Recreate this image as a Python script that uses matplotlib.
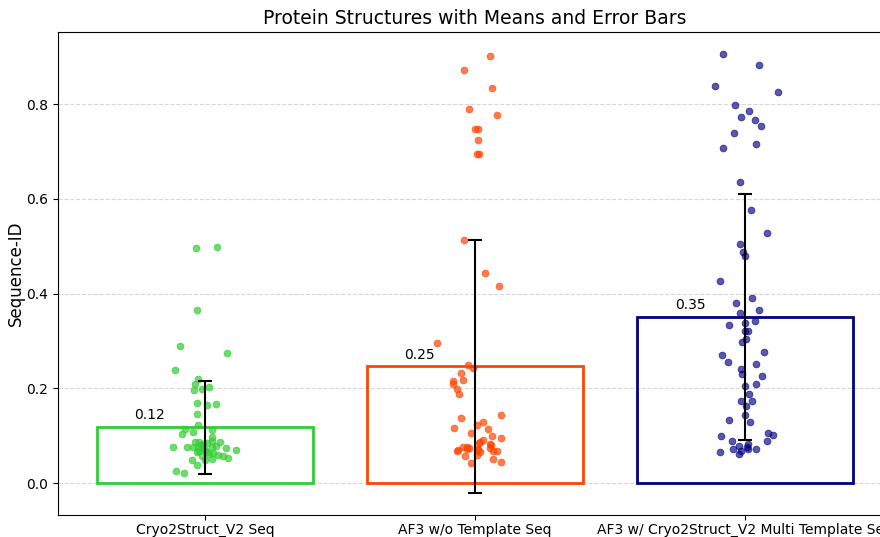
import matplotlib
matplotlib.use("Agg")
import matplotlib.pyplot as plt
import numpy as np

categories = ["Cryo2Struct_V2 Seq", "AF3 w/o Template Seq",
              "AF3 w/ Cryo2Struct_V2 Multi Template Seq"]
means = [0.118, 0.246, 0.350]
stds = [0.098, 0.267, 0.260]

cryo_vals = [0.496, 0.499, 0.365, 0.289, 0.274, 0.239, 0.220, 0.210, 0.203, 0.197,
             0.198, 0.169, 0.165, 0.167, 0.146, 0.123, 0.115, 0.103, 0.108, 0.112,
             0.097, 0.075, 0.075, 0.086, 0.087, 0.084, 0.089, 0.087, 0.075, 0.077,
             0.073, 0.075, 0.073, 0.070, 0.066, 0.065, 0.063, 0.059, 0.058, 0.052,
             0.056, 0.050, 0.049, 0.039, 0.049, 0.025, 0.022, 0.080, 0.070, 0.068,
             0.082, 0.062, 0.079]
cryo_jitter = [-0.034, 0.043, -0.031, -0.094, 0.081, -0.112, -0.024, -0.037, 0.015, -0.041,
               -0.009, -0.031, 0.007, 0.040, -0.030, -0.024, -0.075, -0.085, -0.043, 0.025,
               0.028, -0.117, -0.068, -0.037, -0.021, 0.006, 0.028, 0.056, -0.043, -0.025,
               -0.006, 0.025, 0.077, 0.115, -0.031, 0.006, 0.031, 0.049, 0.068, 0.086,
               -0.012, 0.025, -0.049, -0.031, 0.000, -0.107, -0.078, -0.015, 0.000, -0.022,
               -0.007, 0.015, 0.041]

af3_vals = [0.901, 0.871, 0.834, 0.789, 0.777, 0.747, 0.747, 0.723, 0.694, 0.695,
            0.514, 0.443, 0.416, 0.295, 0.249, 0.242, 0.232, 0.216, 0.217, 0.209,
            0.198, 0.188, 0.144, 0.137, 0.129, 0.122, 0.117, 0.114, 0.105, 0.100,
            0.096, 0.091, 0.087, 0.084, 0.082, 0.080, 0.077, 0.075, 0.073, 0.072,
            0.073, 0.071, 0.070, 0.069, 0.068, 0.068, 0.068, 0.066, 0.059, 0.057,
            0.050, 0.045, 0.042]
af3_jitter = [0.054, -0.040, 0.062, -0.022, 0.083, 0.001, 0.012, 0.012, 0.007, 0.014,
              -0.042, 0.037, 0.090, -0.142, -0.025, -0.006, -0.053, -0.082, -0.045, -0.082,
              -0.068, -0.060, 0.096, -0.053, 0.031, 0.006, -0.078, 0.047, -0.016, 0.064,
              0.096, 0.031, 0.019, 0.016, 0.056, 0.058, -0.031, -0.043, -0.021, 0.012,
              0.056, -0.028, 0.012, -0.062, -0.066, 0.068, 0.080, 0.019, 0.006, -0.037,
              0.065, 0.096, -0.016]

multi_vals = [0.906, 0.882, 0.837, 0.826, 0.798, 0.786, 0.773, 0.767, 0.754, 0.738,
              0.716, 0.708, 0.635, 0.577, 0.528, 0.504, 0.487, 0.480, 0.427, 0.391,
              0.380, 0.366, 0.359, 0.334, 0.337, 0.341, 0.321, 0.321, 0.305, 0.297,
              0.271, 0.277, 0.256, 0.251, 0.241, 0.231, 0.226, 0.208, 0.205, 0.188,
              0.173, 0.174, 0.163, 0.144, 0.132, 0.129, 0.099, 0.088, 0.106, 0.101,
              0.088, 0.079, 0.082, 0.071, 0.071, 0.072, 0.068, 0.065, 0.061, 0.077]
multi_jitter = [-0.080, 0.052, -0.110, 0.122, -0.038, 0.014, -0.015, 0.035, 0.058, -0.041,
                0.040, -0.081, -0.018, 0.021, 0.081, -0.019, -0.009, 0.001, -0.091, 0.027,
                -0.033, 0.051, -0.017, -0.059, 0.000, 0.037, 0.000, 0.012, 0.003, -0.012,
                -0.084, 0.072, -0.064, 0.042, -0.014, -0.010, 0.063, 0.042, 0.000, 0.016,
                -0.014, 0.025, 0.004, 0.001, -0.058, 0.019, -0.089, -0.048, 0.086, 0.105,
                0.083, -0.022, 0.012, -0.043, 0.012, 0.041, -0.016, -0.091, -0.021, 0.006]

values = [cryo_vals, af3_vals, multi_vals]
jitters = [cryo_jitter, af3_jitter, multi_jitter]
edge_colors = ["#32CD32", "#FF4500", "#000080"]
point_colors = ["#32CD32", "#FF4500", "#000080"]
point_alpha = [0.7, 0.7, 0.65]

fig = plt.figure(figsize=(8.8, 5.37), dpi=100)
ax = fig.add_axes([0.0659, 0.041, 0.9477, 0.8994])

x = np.arange(len(categories))
ax.set_axisbelow(True)
ax.grid(axis="y", linestyle="--", color="#cccccc", alpha=0.8, linewidth=0.8)

ax.bar(x, means, width=0.8, facecolor="none", edgecolor=edge_colors,
       linewidth=2, zorder=2)

for i, (vals, jit) in enumerate(zip(values, jitters)):
    ax.scatter(i + np.asarray(jit), vals, s=24, color=point_colors[i],
               alpha=point_alpha[i], edgecolors=point_colors[i],
               linewidths=0.6, zorder=3)

ax.errorbar(x, means, yerr=stds, fmt="none", ecolor="black", elinewidth=1.5,
            capsize=5, capthick=1.5, zorder=4)

for i, m in enumerate(means):
    ax.text(i - 0.204, m + 0.01, f"{m:.2f}", ha="center", va="bottom",
            fontsize=10)

ax.set_xticks(x)
ax.set_xticklabels(categories, fontsize=10)
ax.tick_params(axis="x", pad=2.5)
ax.set_xlim(-0.544, 2.544)
ax.set_ylim(-0.0675, 0.952)
ax.set_yticks([0.0, 0.2, 0.4, 0.6, 0.8])
ax.set_ylabel("Sequence-ID", fontsize=12, labelpad=1)
ax.set_title("Protein Structures with Means and Error Bars", fontsize=13.5)

fig.savefig("out.png", dpi=100)
